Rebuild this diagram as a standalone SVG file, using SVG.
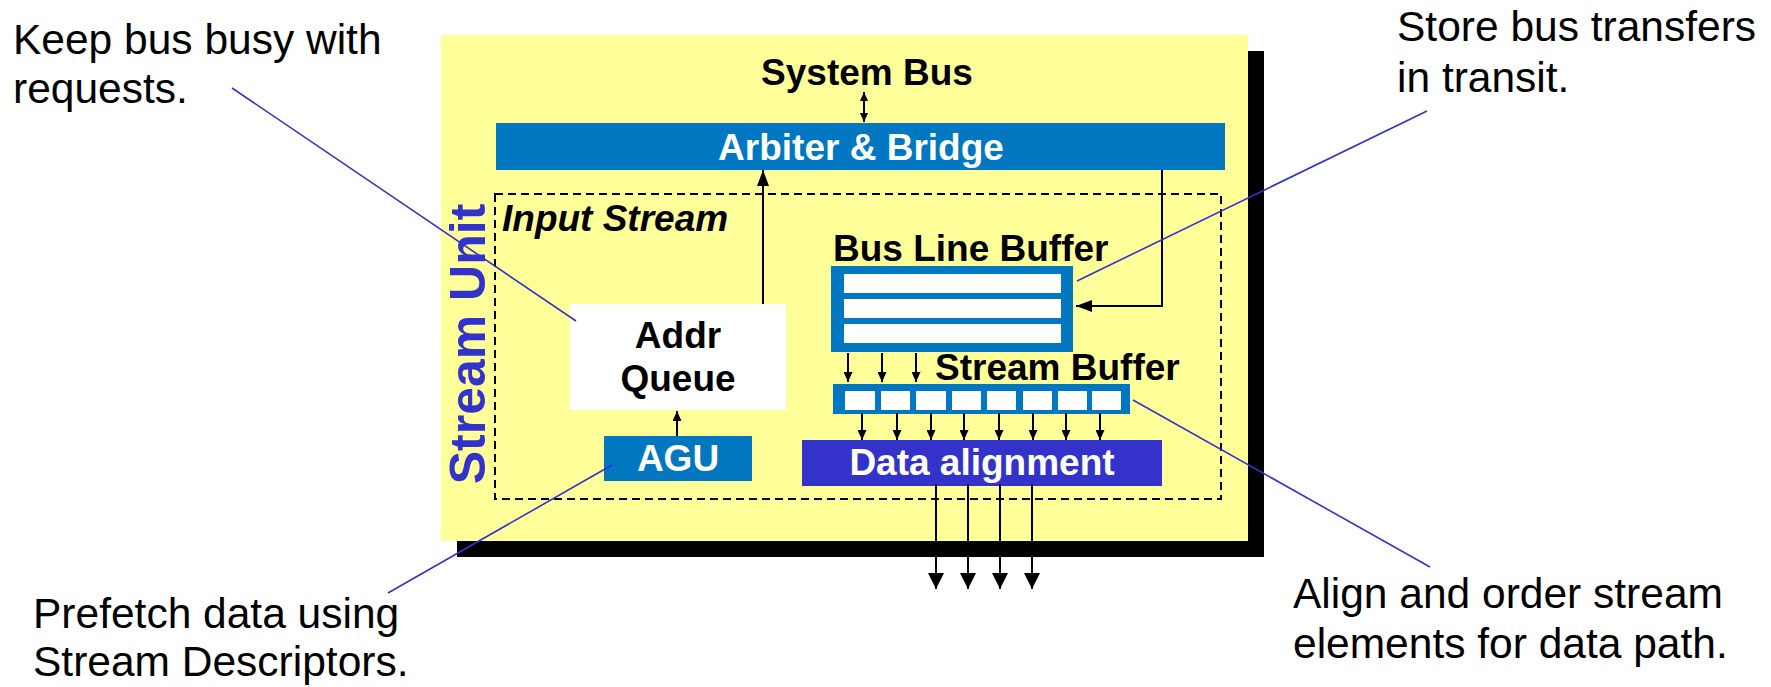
<svg xmlns="http://www.w3.org/2000/svg" width="1771" height="687" viewBox="0 0 1771 687">
<defs>
<style>
.lbl{font-family:"Liberation Sans",Arial,sans-serif;font-weight:bold;font-size:37px;fill:#000}
.wht{font-family:"Liberation Sans",Arial,sans-serif;font-weight:bold;font-size:37px;fill:#fff}
.note{font-family:"Liberation Sans",Arial,sans-serif;font-size:42.5px;fill:#000}
.blue{fill:#0077C0}
.cell{fill:#fff}
.conn{stroke:#000;stroke-width:2;fill:none}
.call{stroke:#3333CC;stroke-width:1.6;fill:none}
</style>
<marker id="ah" markerWidth="16" markerHeight="12" refX="16" refY="6" orient="auto" markerUnits="userSpaceOnUse"><path d="M0,0 L16,6 L0,12 z" fill="#000"/></marker>
<marker id="ahs" markerWidth="10" markerHeight="9" refX="10" refY="4.5" orient="auto" markerUnits="userSpaceOnUse"><path d="M0,0 L10,4.5 L0,9 z" fill="#000"/></marker>
<marker id="ahb" markerWidth="16" markerHeight="16" refX="16" refY="8" orient="auto" markerUnits="userSpaceOnUse"><path d="M0,0 L16,8 L0,16 z" fill="#000"/></marker>
<marker id="ahd" markerWidth="9" markerHeight="8" refX="9" refY="4" orient="auto-start-reverse" markerUnits="userSpaceOnUse"><path d="M0,0 L9,4 L0,8 z" fill="#000"/></marker>
</defs>
<rect width="1771" height="687" fill="#fff"/>

<g id="stream-unit">
<rect x="457" y="51" width="807" height="506" fill="#000"/>
<rect x="441" y="35" width="807" height="506" fill="#FFFF99"/>
<text x="485" y="344" transform="rotate(-90 485 344)" text-anchor="middle" style="font-family:'Liberation Sans',Arial,sans-serif;font-weight:bold;font-size:50px;fill:#3333CC">Stream Unit</text>
</g>

<g id="system-bus">
<text class="lbl" x="867" y="85" text-anchor="middle">System Bus</text>
</g>

<g id="arbiter-bridge">
<rect class="blue" x="496" y="123" width="729" height="47"/>
<text class="wht" x="861" y="160" text-anchor="middle">Arbiter &amp; Bridge</text>
</g>

<g id="input-stream">
<rect x="495" y="194" width="726" height="305" fill="none" stroke="#000" stroke-width="2" stroke-dasharray="8 5"/>
<text x="502" y="231" style="font-family:'Liberation Sans',Arial,sans-serif;font-weight:bold;font-style:italic;font-size:37px;fill:#000">Input Stream</text>
</g>

<g id="addr-queue">
<rect x="570" y="304" width="216" height="106" fill="#fff"/>
<text class="lbl" x="678" y="348" text-anchor="middle">Addr</text>
<text class="lbl" x="678" y="391" text-anchor="middle">Queue</text>
</g>

<g id="agu">
<rect class="blue" x="604" y="436" width="148" height="45"/>
<text class="wht" x="678" y="471" text-anchor="middle">AGU</text>
</g>

<g id="bus-line-buffer">
<text class="lbl" x="833" y="261">Bus Line Buffer</text>
<rect class="blue" x="831" y="266" width="242" height="86"/>
<rect class="cell" x="844" y="274" width="217" height="19"/>
<rect class="cell" x="844" y="299" width="217" height="19"/>
<rect class="cell" x="844" y="324" width="217" height="19"/>
</g>

<g id="stream-buffer">
<text class="lbl" x="935" y="380">Stream Buffer</text>
<rect class="blue" x="833" y="384" width="297" height="30"/>
<rect class="cell" x="845" y="391" width="30" height="19"/>
<rect class="cell" x="881" y="391" width="29" height="19"/>
<rect class="cell" x="916" y="391" width="30" height="19"/>
<rect class="cell" x="952" y="391" width="29" height="19"/>
<rect class="cell" x="987" y="391" width="29" height="19"/>
<rect class="cell" x="1023" y="391" width="29" height="19"/>
<rect class="cell" x="1058" y="391" width="29" height="19"/>
<rect class="cell" x="1092" y="391" width="29" height="19"/>
</g>

<g id="data-alignment">
<rect x="802" y="440" width="360" height="46" fill="#3333CC"/>
<text class="wht" x="982" y="475" text-anchor="middle">Data alignment</text>
</g>

<g id="connectors">
<line class="conn" x1="864" y1="92" x2="864" y2="122" marker-start="url(#ahd)" marker-end="url(#ahd)"/>
<line class="conn" x1="763" y1="304" x2="763" y2="170" marker-end="url(#ah)"/>
<line class="conn" x1="677" y1="436" x2="677" y2="411" marker-end="url(#ahs)"/>
<polyline class="conn" points="1162,170 1162,306 1076,306" marker-end="url(#ah)"/>
<line class="conn" x1="848" y1="353" x2="848" y2="382" marker-end="url(#ahs)"/>
<line class="conn" x1="882" y1="353" x2="882" y2="382" marker-end="url(#ahs)"/>
<line class="conn" x1="916" y1="353" x2="916" y2="382" marker-end="url(#ahs)"/>
<line class="conn" x1="862" y1="413" x2="862" y2="440" marker-end="url(#ahs)"/>
<line class="conn" x1="897" y1="413" x2="897" y2="440" marker-end="url(#ahs)"/>
<line class="conn" x1="931" y1="413" x2="931" y2="440" marker-end="url(#ahs)"/>
<line class="conn" x1="964" y1="413" x2="964" y2="440" marker-end="url(#ahs)"/>
<line class="conn" x1="999" y1="413" x2="999" y2="440" marker-end="url(#ahs)"/>
<line class="conn" x1="1033" y1="413" x2="1033" y2="440" marker-end="url(#ahs)"/>
<line class="conn" x1="1066" y1="413" x2="1066" y2="440" marker-end="url(#ahs)"/>
<line class="conn" x1="1100" y1="413" x2="1100" y2="440" marker-end="url(#ahs)"/>
<line class="conn" stroke-width="2.5" x1="936" y1="484" x2="936" y2="589" marker-end="url(#ahb)"/>
<line class="conn" stroke-width="2.5" x1="968" y1="484" x2="968" y2="589" marker-end="url(#ahb)"/>
<line class="conn" stroke-width="2.5" x1="1000" y1="484" x2="1000" y2="589" marker-end="url(#ahb)"/>
<line class="conn" stroke-width="2.5" x1="1032" y1="484" x2="1032" y2="589" marker-end="url(#ahb)"/>
<line class="call" x1="232" y1="88" x2="576" y2="321"/>
<line class="call" x1="388" y1="593" x2="612" y2="465"/>
<line class="call" x1="1427" y1="111" x2="1077" y2="281"/>
<line class="call" x1="1133" y1="400" x2="1430" y2="567"/>
</g>

<g id="notes">
<text class="note" x="13" y="54">Keep bus busy with</text>
<text class="note" x="13" y="103">requests.</text>
<text class="note" x="1397" y="41">Store bus transfers</text>
<text class="note" x="1397" y="92">in transit.</text>
<text class="note" x="33" y="628">Prefetch data using</text>
<text class="note" x="33" y="676">Stream Descriptors.</text>
<text class="note" x="1293" y="608">Align and order stream</text>
<text class="note" x="1293" y="658">elements for data path.</text>
</g>
</svg>
